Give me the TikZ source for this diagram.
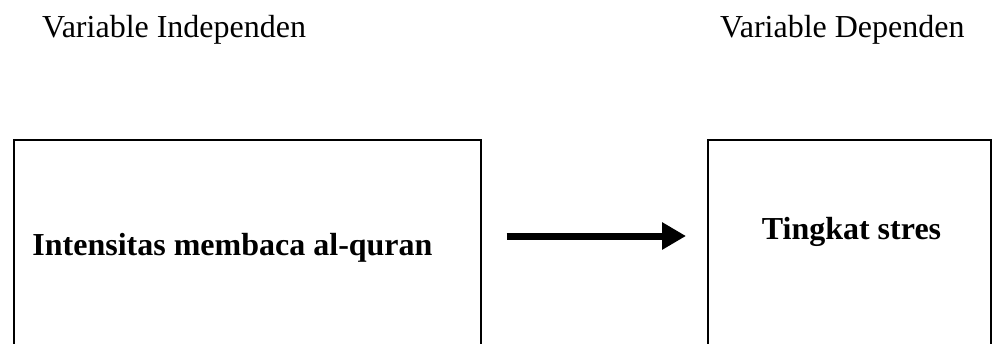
\documentclass[tikz,border=0pt]{standalone}
\usepackage{fontspec}
\setmainfont{Liberation Serif}
\usetikzlibrary{arrows.meta}
\begin{document}
\begin{tikzpicture}[x=1pt,y=-1pt,
  varbox/.style={draw=black,line width=1.6pt,rectangle,inner sep=0pt,anchor=north west},
  title/.style={inner sep=0pt,anchor=base west,font=\fontsize{32}{38}\selectfont},
  label/.style={inner sep=0pt,anchor=base,font=\fontsize{32}{38}\selectfont\bfseries},
  bigarrow/.style={line width=7pt,-{Triangle[length=24pt,width=26pt]}}]
\useasboundingbox (0,0) rectangle (1003,343);
\clip (0,0) rectangle (1003,343);
\node[title] (ti) at (42,37) {Variable Independen};
\node[title] (td) at (720,37) {Variable Dependen};
\node[varbox,minimum width=467pt,minimum height=230pt] (L) at (13,139) {};
\node[varbox,minimum width=283pt,minimum height=230pt] (R) at (707,139) {};
\node[label] (lt) at (232.5,255) {Intensitas membaca al-quran};
\node[label] (rt) at (851.5,239) {Tingkat stres};
\coordinate (a1) at ([xshift=25pt]L.east |- 0,236);
\coordinate (a2) at ([xshift=-21pt]R.west |- 0,236);
\draw[bigarrow] (a1) -- (a2);
\end{tikzpicture}
\end{document}
